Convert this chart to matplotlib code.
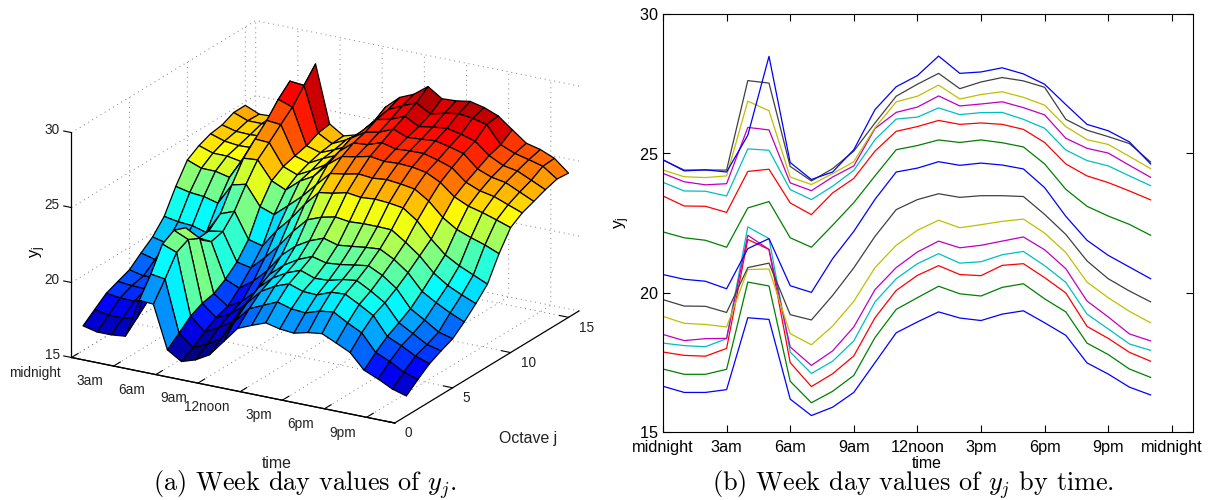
import numpy as np
import matplotlib
matplotlib.use('Agg')
import matplotlib.pyplot as plt
from matplotlib.colors import LinearSegmentedColormap

plt.rcParams['font.family'] = ['Liberation Sans', 'DejaVu Sans']
plt.rcParams['mathtext.fontset'] = 'cm'
plt.rcParams['axes.formatter.use_mathtext'] = True

hours = list(range(24))
octaves = list(range(1, 16))

# one list per octave
j01 = [16.64, 16.42, 16.42, 16.52, 19.10, 19.04, 16.18, 15.59, 15.89, 16.42, 17.49, 18.56, 18.95, 19.31, 19.09, 19.00, 19.23, 19.35, 18.92, 18.47, 17.48, 17.08, 16.61, 16.33]
j02 = [17.26, 17.07, 17.07, 17.25, 20.38, 20.24, 16.82, 16.05, 16.46, 17.03, 18.39, 19.40, 19.82, 20.23, 19.96, 19.88, 20.19, 20.32, 19.78, 19.31, 18.19, 17.78, 17.26, 16.96]
j03 = [17.87, 17.75, 17.72, 18.00, 21.91, 21.55, 17.49, 16.63, 17.09, 17.73, 19.10, 20.08, 20.62, 20.97, 20.65, 20.61, 20.98, 21.04, 20.54, 19.99, 18.79, 18.36, 17.86, 17.54]
j04 = [18.19, 18.10, 18.06, 18.35, 22.36, 21.94, 17.87, 17.10, 17.54, 18.27, 19.67, 20.50, 21.04, 21.40, 21.06, 21.11, 21.36, 21.48, 20.97, 20.37, 19.23, 18.70, 18.16, 17.93]
j05 = [18.50, 18.28, 18.35, 18.36, 22.06, 21.55, 18.05, 17.39, 17.91, 18.77, 20.11, 20.90, 21.46, 21.85, 21.61, 21.70, 21.85, 22.00, 21.54, 20.86, 19.70, 19.13, 18.52, 18.27]
j06 = [19.15, 18.90, 18.86, 18.77, 20.83, 20.85, 18.53, 18.13, 18.80, 19.69, 20.90, 21.70, 22.24, 22.60, 22.33, 22.44, 22.56, 22.64, 22.14, 21.44, 20.38, 19.82, 19.33, 18.92]
j07 = [19.75, 19.52, 19.51, 19.29, 20.90, 21.06, 19.21, 19.02, 19.90, 20.89, 22.02, 22.98, 23.34, 23.55, 23.42, 23.48, 23.48, 23.45, 22.81, 22.09, 21.14, 20.50, 20.06, 19.67]
j08 = [20.65, 20.48, 20.41, 20.14, 21.58, 21.94, 20.25, 20.01, 21.22, 22.20, 23.35, 24.33, 24.47, 24.70, 24.57, 24.65, 24.58, 24.44, 23.77, 22.74, 21.88, 21.34, 20.92, 20.50]
j09 = [22.18, 21.97, 21.88, 21.63, 23.04, 23.27, 21.97, 21.63, 22.42, 23.23, 24.19, 25.13, 25.28, 25.48, 25.39, 25.48, 25.38, 25.23, 24.62, 23.71, 23.10, 22.75, 22.45, 22.06]
j10 = [23.47, 23.11, 23.10, 22.88, 24.35, 24.43, 23.22, 22.80, 23.58, 24.10, 25.08, 25.79, 25.96, 26.18, 26.04, 26.09, 26.04, 25.86, 25.39, 24.62, 24.19, 23.95, 23.65, 23.33]
j11 = [23.96, 23.65, 23.64, 23.47, 25.16, 25.11, 23.70, 23.34, 23.82, 24.39, 25.49, 26.23, 26.30, 26.63, 26.39, 26.46, 26.47, 26.22, 25.90, 25.12, 24.74, 24.55, 24.19, 23.84]
j12 = [24.28, 23.98, 23.87, 23.91, 25.93, 25.84, 23.94, 23.66, 24.15, 24.55, 25.89, 26.47, 26.66, 27.06, 26.70, 26.77, 26.85, 26.64, 26.38, 25.54, 25.18, 25.01, 24.57, 24.14]
j13 = [24.40, 24.16, 24.13, 24.19, 26.87, 26.53, 24.15, 23.88, 24.27, 24.70, 25.92, 26.85, 27.05, 27.45, 26.95, 27.11, 27.21, 27.01, 26.73, 25.96, 25.49, 25.32, 24.89, 24.45]
j14 = [24.76, 24.40, 24.40, 24.40, 27.61, 27.52, 24.53, 24.01, 24.45, 25.08, 26.09, 27.05, 27.48, 27.87, 27.32, 27.56, 27.72, 27.60, 27.37, 26.22, 25.83, 25.60, 25.35, 24.69]
j15 = [24.77, 24.37, 24.41, 24.33, 25.65, 28.48, 24.67, 24.06, 24.33, 25.13, 26.57, 27.39, 27.79, 28.49, 27.87, 27.92, 28.07, 27.85, 27.48, 26.75, 26.04, 25.81, 25.41, 24.62]

time_ticks = [0, 3, 6, 9, 12, 15, 18, 21, 24]
time_labels = ['midnight', '3am', '6am', '9am', '12noon', '3pm', '6pm', '9pm', 'midnight']
octave_ticks = [0, 5, 10, 15]
value_ticks = [15, 20, 25, 30]

Z = np.array([j01, j02, j03, j04, j05, j06, j07, j08, j09, j10, j11, j12, j13, j14, j15])
X, Y = np.meshgrid(hours, octaves)

W, H = 1208, 500
fig = plt.figure(figsize=(W / 100, H / 100), dpi=100)

# matlab's jet is a little different from the matplotlib one
mjet = LinearSegmentedColormap.from_list('mjet', [
    (0, (0, 0, 0.5)), (0.125, (0, 0, 1)), (0.375, (0, 1, 1)),
    (0.625, (1, 1, 0)), (0.875, (1, 0, 0)), (1, (0.5, 0, 0))])

# left: surface. axes is a big square, centre of the box lands at (325, 222) px
S = 560
ax = fig.add_axes([37.65 / W, -9.35 / H, S / W, S / H], projection='3d', proj_type='ortho')
ax.view_init(elev=20.55, azim=-60)
ax.set_box_aspect((373.4, 368.6, 240.3))
ax.patch.set_alpha(0)

norm = plt.Normalize(Z.min(), Z.max())
ax.plot_surface(X, Y, Z, rstride=1, cstride=1, facecolors=mjet(norm(Z)),
                edgecolor='k', linewidth=0.9, shade=False, antialiased=True)
ax.plot([0, 0], [0, 0], [15, 30], color='k', linewidth=0.9)

ax.set_xlim(0, 23, view_margin=0)
ax.set_ylim(0, 15.9, view_margin=0)
ax.set_zlim(15, 30, view_margin=0)
ax.set_xticks(time_ticks[:-1])
ax.set_xticklabels(time_labels[:-1], fontsize=9.8, color='#222222', ha='right', va='baseline')
ax.set_yticks(octave_ticks)
ax.set_yticklabels([str(v) for v in octave_ticks], fontsize=9.8, color='#222222', ha='left', va='center_baseline')
ax.set_zticks(value_ticks)
ax.set_zticklabels([str(v) for v in value_ticks], fontsize=9.8, color='#222222', va='baseline')

ax.zaxis._axinfo['juggled'] = (1, 0, 2)
for a in (ax.xaxis, ax.yaxis, ax.zaxis):
    a.set_pane_color((1, 1, 1, 0))
    a.pane.set_edgecolor((1, 1, 1, 0))
    a.line.set_linewidth(0.9)
    a.line.set_color('k')
    a._axinfo['grid'].update(color='#808080', linewidth=0.7, linestyle=(0, (1, 4)))
ax.xaxis._axinfo['tick'].update(inward_factor=0, outward_factor=0.45)
ax.yaxis._axinfo['tick'].update(inward_factor=0, outward_factor=0.35)
ax.zaxis._axinfo['tick'].update(inward_factor=0, outward_factor=0.3)
ax.tick_params(axis='x', pad=4)
ax.tick_params(axis='y', pad=-1.5)
ax.tick_params(axis='z', pad=0)

fig.text(38 / W, 1 - 252 / H, r'$\mathregular{y_j}$', rotation=90, fontsize=12, ha='center', va='center')
fig.text(277 / W, 1 - 463 / H, 'time', fontsize=11.4, ha='center', va='center', color='#222222')
fig.text(528 / W, 1 - 438 / H, 'Octave j', fontsize=11.4, ha='center', va='center', color='#222222')

# right: same data as lines
ax2 = fig.add_axes([663 / W, 1 - 432 / H, 530 / W, 418 / H])
colors = ['b', (0, 0.5, 0), 'r', (0, 0.75, 0.75), (0.75, 0, 0.75), (0.75, 0.75, 0), (0.25, 0.25, 0.25)]
for i in range(Z.shape[0]):
    ax2.plot(hours, Z[i], color=colors[i % 7], linewidth=0.9)
ax2.set_xlim(0, 25)
ax2.set_ylim(15, 30)
ax2.set_xticks(time_ticks)
ax2.set_xticklabels(time_labels)
ax2.set_yticks(value_ticks)
ax2.tick_params(direction='in', top=True, right=True, length=5, width=0.8, labelsize=11.7, pad=3)
ax2.tick_params(axis='x', pad=5.5)
ax2.set_xlabel('time', fontsize=11.4)
ax2.xaxis.set_label_coords((927 - 663) / 530, -0.057)
ax2.set_ylabel(r'$\mathregular{y_j}$', fontsize=12.5)
ax2.yaxis.set_label_coords((632 - 663) / 530, 0.5)

# captions
fig.text(304.5 / W, 1 - 491 / H, r'(a) Week day values of $y_j$.', family='cmr10', fontsize=18.9, ha='center', va='baseline')
fig.text(913.5 / W, 1 - 491 / H, r'(b) Week day values of $y_j$ by time.', family='cmr10', fontsize=18.9, ha='center', va='baseline')

fig.savefig('out.png', dpi=100)
